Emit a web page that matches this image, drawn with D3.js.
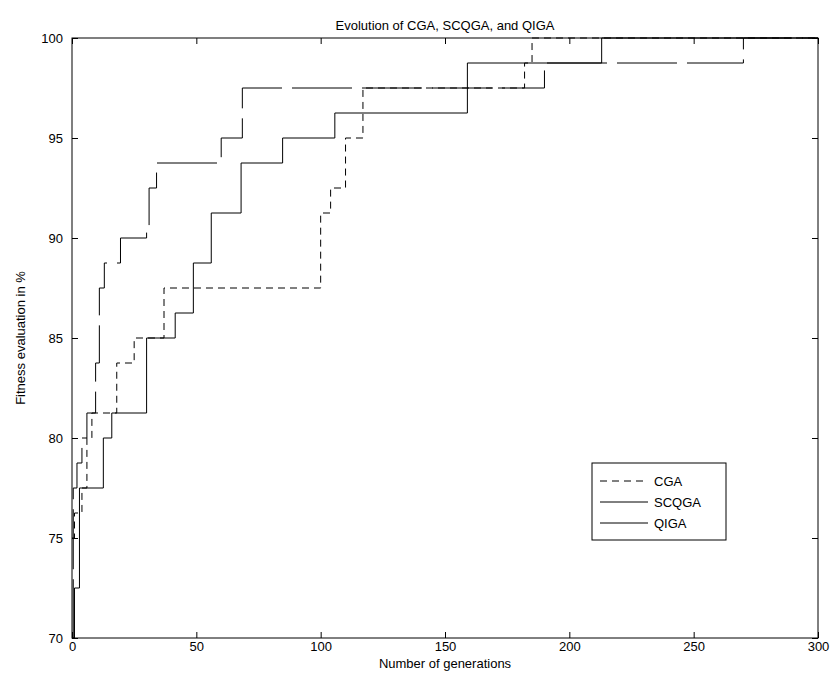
<!DOCTYPE html>
<html><head><meta charset="utf-8">
<script src="https://d3js.org/d3.v7.min.js"></script>
<style>
body{margin:0;background:#fff;font-family:Arial,"Liberation Sans",sans-serif;}
text{font-family:Arial,"Liberation Sans",sans-serif;}
</style></head>
<body><svg id="c" width="830" height="675"></svg>
<script>
// generations where each series steps up, and the value reached
const cgaGen   = [0, 1, 4, 6, 8, 18, 25, 37, 100, 104, 110, 117, 182, 185, 300];
const cgaVal   = [75, 76.25, 77.5, 80, 81.25, 83.75, 85, 87.5, 91.25, 92.5, 95, 97.5, 98.75, 100, 100];
const scqgaGen = [0, 1, 3, 12.6, 16, 30, 41.5, 48.8, 56, 68, 84.7, 105.7, 159, 213, 300];
const scqgaVal = [70, 72.5, 77.5, 80, 81.25, 85, 86.25, 88.75, 91.25, 93.75, 95, 96.25, 98.75, 100, 100];
const qigaGen  = [0, 0.5, 2, 4, 6, 9.5, 11, 13, 19.5, 30, 31, 34, 60, 68.5, 190, 270, 300];
const qigaVal  = [70, 77.5, 78.75, 80, 81.25, 83.75, 87.5, 88.75, 90, 90.5, 92.5, 93.75, 95, 97.5, 98.75, 100, 100];
const xTicks = [0, 50, 100, 150, 200, 250, 300];
const yTicks = [70, 75, 80, 85, 90, 95, 100];

const svg = d3.select("#c");
const x = d3.scaleLinear().domain([0, 300]).range([72, 818]);
const y = d3.scaleLinear().domain([70, 100]).range([638, 38]);

// axes box
svg.append("rect").attr("x", 72).attr("y", 38).attr("width", 746).attr("height", 600)
    .attr("fill", "none").attr("stroke", "#000").attr("stroke-width", 1);

const fmt = d3.format("d");
svg.append("g").attr("transform", "translate(0,638)")
    .call(d3.axisBottom(x).tickValues(xTicks).tickSize(-6).tickPadding(4).tickFormat(fmt))
    .call(g => g.select(".domain").remove());
svg.append("g").attr("transform", "translate(0,38)")
    .call(d3.axisTop(x).tickValues(xTicks).tickSize(-6).tickFormat(""))
    .call(g => g.select(".domain").remove());
svg.append("g").attr("transform", "translate(72,0)")
    .call(d3.axisLeft(y).tickValues(yTicks).tickSize(-6).tickPadding(9).tickFormat(fmt))
    .call(g => g.select(".domain").remove());
svg.append("g").attr("transform", "translate(818,0)")
    .call(d3.axisRight(y).tickValues(yTicks).tickSize(-6).tickFormat(""))
    .call(g => g.select(".domain").remove());
svg.selectAll(".tick text").attr("font-size", 13).attr("fill", "#000");
svg.selectAll(".tick line").attr("stroke", "#000");

const line = d3.line().x(d => x(d[0])).y(d => y(d[1])).curve(d3.curveStepAfter);
const series = [
    { name: "CGA", gen: cgaGen, val: cgaVal, dash: "7,5" },
    { name: "SCQGA", gen: scqgaGen, val: scqgaVal, dash: null },
    { name: "QIGA", gen: qigaGen, val: qigaVal, dash: "60,10" },
];
series.forEach(s => {
    svg.append("path").datum(s.gen.map((g, i) => [g, s.val[i]]))
        .attr("d", line).attr("fill", "none").attr("stroke", "#000")
        .attr("stroke-width", 1).attr("stroke-dasharray", s.dash);
});

// legend
const lg = svg.append("g").attr("transform", "translate(592,463)");
lg.append("rect").attr("width", 134).attr("height", 77).attr("fill", "#fff").attr("stroke", "#000");
series.forEach((s, i) => {
    const yy = 18 + i * 21;
    lg.append("line").attr("x1", 8).attr("x2", 56).attr("y1", yy).attr("y2", yy)
        .attr("stroke", "#000").attr("stroke-dasharray", i === 0 ? "7,5" : null);
    lg.append("text").attr("x", 62).attr("y", yy + 5).attr("font-size", 13).text(s.name);
});

svg.append("text").attr("x", 445).attr("y", 30).attr("text-anchor", "middle")
    .attr("font-size", 13).text("Evolution of CGA, SCQGA, and QIGA");
svg.append("text").attr("x", 445).attr("y", 668).attr("text-anchor", "middle")
    .attr("font-size", 13).text("Number of generations");
svg.append("text").attr("transform", "translate(25,338) rotate(-90)").attr("text-anchor", "middle")
    .attr("font-size", 13).text("Fitness evaluation in %");
</script></body></html>
